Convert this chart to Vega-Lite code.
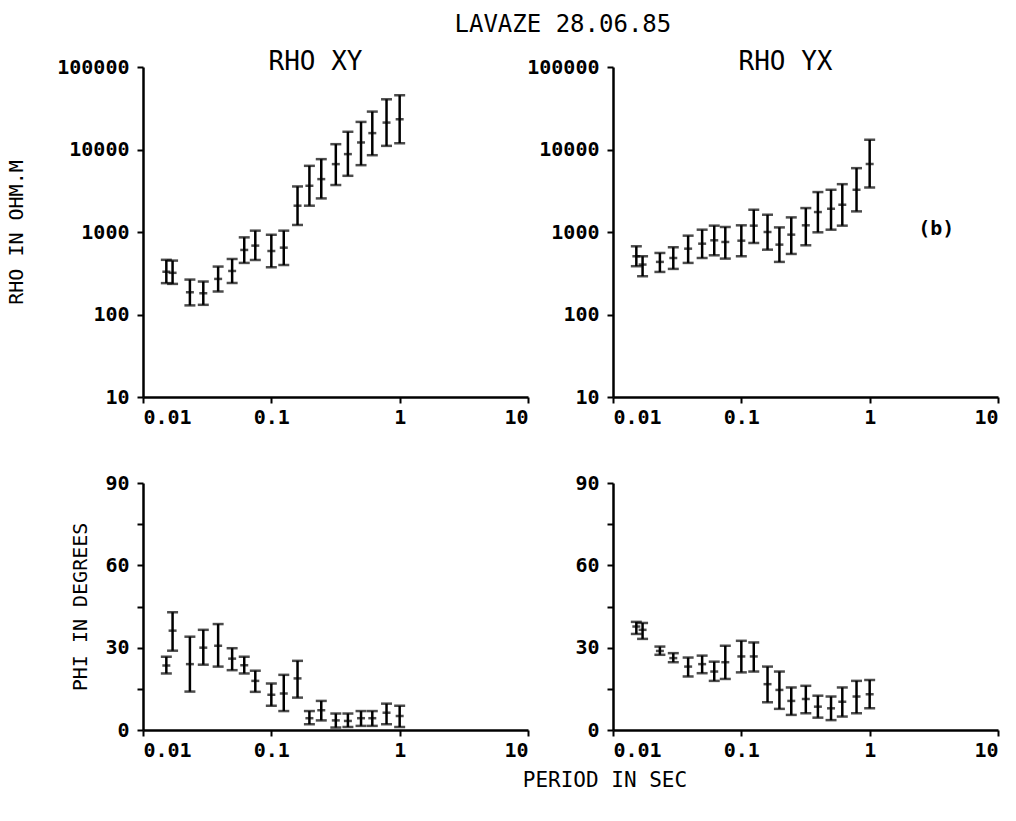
{
  "$schema": "https://vega.github.io/schema/vega-lite/v6.json",
  "background": "white",
  "padding": {"left": 6, "top": 13, "right": 5, "bottom": 5},
  "title": {"text": "LAVAZE 28.06.85", "fontSize": 24, "anchor": "middle", "offset": 12, "dx": 60},
  "config": {
    "view": {"stroke": null},
    "axis": {"grid": false, "domainColor": "black", "domainWidth": 2.5, "tickColor": "black", "tickWidth": 2, "tickSize": 6, "labelFont": "DejaVu Sans Mono", "labelFontSize": 20, "labelFontWeight": "bold", "labelColor": "black", "titleFont": "DejaVu Sans Mono", "titleFontSize": 20, "titleFontWeight": "normal", "titleColor": "black", "labelPadding": 8, "titlePadding": 6},
    "axisX": {"labelPadding": 4},
    "title": {"font": "DejaVu Sans Mono", "fontWeight": "normal", "color": "black", "fontSize": 20},
    "tick": {"color": "black", "thickness": 2.5},
    "rule": {"color": "black", "strokeWidth": 2.5},
    "text": {"color": "black", "font": "DejaVu Sans Mono", "fontSize": 20, "fontWeight": "bold"}
  },
  "data": {"values": [
    {"comp": "XY", "T": 0.0152, "rho": 330, "rlo": 240, "rhi": 460, "phi": 23.5, "plo": 20.6, "phh": 26.7},
    {"comp": "XY", "T": 0.0170, "rho": 320, "rlo": 235, "rhi": 450, "phi": 36.2, "plo": 28.9, "phh": 42.9},
    {"comp": "XY", "T": 0.0232, "rho": 186, "rlo": 129, "rhi": 265, "phi": 24, "plo": 14, "phh": 34},
    {"comp": "XY", "T": 0.0295, "rho": 181, "rlo": 131, "rhi": 251, "phi": 30, "plo": 23.8, "phh": 36.5},
    {"comp": "XY", "T": 0.0385, "rho": 270, "rlo": 190, "rhi": 381, "phi": 30.7, "plo": 23.1, "phh": 38.6},
    {"comp": "XY", "T": 0.0495, "rho": 337, "rlo": 241, "rhi": 471, "phi": 26, "plo": 21.8, "phh": 29.8},
    {"comp": "XY", "T": 0.0615, "rho": 606, "rlo": 422, "rhi": 861, "phi": 23.6, "plo": 20.6, "phh": 26.7},
    {"comp": "XY", "T": 0.0750, "rho": 684, "rlo": 458, "rhi": 1038, "phi": 17.9, "plo": 13.9, "phh": 21.6},
    {"comp": "XY", "T": 0.100, "rho": 589, "rlo": 374, "rhi": 929, "phi": 12.8, "plo": 8.8, "phh": 16.9},
    {"comp": "XY", "T": 0.125, "rho": 646, "rlo": 398, "rhi": 1038, "phi": 13.3, "plo": 6.9, "phh": 20.1},
    {"comp": "XY", "T": 0.160, "rho": 2084, "rlo": 1217, "rhi": 3565, "phi": 18.8, "plo": 11.8, "phh": 25.2},
    {"comp": "XY", "T": 0.198, "rho": 3634, "rlo": 2084, "rhi": 6340, "phi": 4.3, "plo": 2.1, "phh": 6.9},
    {"comp": "XY", "T": 0.245, "rho": 4375, "rlo": 2554, "rhi": 7640, "phi": 7.2, "plo": 3.5, "phh": 10.6},
    {"comp": "XY", "T": 0.318, "rho": 6650, "rlo": 3710, "rhi": 11600, "phi": 3.5, "plo": 0.9, "phh": 6.0},
    {"comp": "XY", "T": 0.395, "rho": 8790, "rlo": 4800, "rhi": 16400, "phi": 3.3, "plo": 1.1, "phh": 6.0},
    {"comp": "XY", "T": 0.500, "rho": 12170, "rlo": 6460, "rhi": 21600, "phi": 4.3, "plo": 1.5, "phh": 6.9},
    {"comp": "XY", "T": 0.612, "rho": 15800, "rlo": 8530, "rhi": 28800, "phi": 4.3, "plo": 1.5, "phh": 6.9},
    {"comp": "XY", "T": 0.790, "rho": 21200, "rlo": 11070, "rhi": 40600, "phi": 6.3, "plo": 2.1, "phh": 9.6},
    {"comp": "XY", "T": 1.000, "rho": 23300, "rlo": 11940, "rhi": 45400, "phi": 5.1, "plo": 1.1, "phh": 8.8},
    {"comp": "YX", "T": 0.0152, "rho": 508, "rlo": 385, "rhi": 671, "phi": 37.7, "plo": 35, "phh": 39.4},
    {"comp": "YX", "T": 0.0170, "rho": 403, "rlo": 291, "rhi": 508, "phi": 36.5, "plo": 33.2, "phh": 39},
    {"comp": "YX", "T": 0.0232, "rho": 434, "rlo": 328, "rhi": 557, "phi": 28.8, "plo": 27.4, "phh": 30.4},
    {"comp": "YX", "T": 0.0295, "rho": 484, "rlo": 357, "rhi": 653, "phi": 26.2, "plo": 24.7, "phh": 28},
    {"comp": "YX", "T": 0.0385, "rho": 628, "rlo": 422, "rhi": 903, "phi": 23.1, "plo": 19.5, "phh": 26.4},
    {"comp": "YX", "T": 0.0495, "rho": 722, "rlo": 484, "rhi": 1067, "phi": 24, "plo": 20.7, "phh": 27.1},
    {"comp": "YX", "T": 0.0615, "rho": 793, "rlo": 522, "rhi": 1194, "phi": 21.3, "plo": 17.9, "phh": 24.9},
    {"comp": "YX", "T": 0.0750, "rho": 757, "rlo": 476, "rhi": 1150, "phi": 24.7, "plo": 18.6, "phh": 30.7},
    {"comp": "YX", "T": 0.100, "rho": 785, "rlo": 508, "rhi": 1205, "phi": 26.8, "plo": 21, "phh": 32.5},
    {"comp": "YX", "T": 0.125, "rho": 1194, "rlo": 736, "rhi": 1862, "phi": 26.8, "plo": 21.3, "phh": 31.9},
    {"comp": "YX", "T": 0.160, "rho": 1000, "rlo": 611, "rhi": 1620, "phi": 16.7, "plo": 10.1, "phh": 23.1},
    {"comp": "YX", "T": 0.198, "rho": 703, "rlo": 434, "rhi": 1137, "phi": 14.6, "plo": 7.7, "phh": 21.3},
    {"comp": "YX", "T": 0.245, "rho": 929, "rlo": 542, "rhi": 1504, "phi": 10.6, "plo": 5.5, "phh": 15.5},
    {"comp": "YX", "T": 0.318, "rho": 1205, "rlo": 690, "rhi": 1950, "phi": 11.3, "plo": 6.1, "phh": 16.1},
    {"comp": "YX", "T": 0.395, "rho": 1745, "rlo": 991, "rhi": 3048, "phi": 8.5, "plo": 4.5, "phh": 12.5},
    {"comp": "YX", "T": 0.500, "rho": 1914, "rlo": 1067, "rhi": 3250, "phi": 7.9, "plo": 3.6, "phh": 12.2},
    {"comp": "YX", "T": 0.612, "rho": 2141, "rlo": 1194, "rhi": 3800, "phi": 10.3, "plo": 4.9, "phh": 15.5},
    {"comp": "YX", "T": 0.790, "rho": 3250, "rlo": 1778, "rhi": 5940, "phi": 12.2, "plo": 6.1, "phh": 17.9},
    {"comp": "YX", "T": 1.000, "rho": 6650, "rlo": 3467, "rhi": 13090, "phi": 13, "plo": 7.9, "phh": 18.2}
  ]},
  "spacing": 46,
  "vconcat": [
    {
      "bounds": "flush",
      "spacing": 85,
      "hconcat": [
        {
          "width": 385, "height": 330,
          "title": {"text": "RHO XY", "fontSize": 26, "offset": -18, "dx": -20},
          "transform": [{"filter": "datum.comp === 'XY'"}],
          "encoding": {"x": {"field": "T", "type": "quantitative", "scale": {"type": "log", "domain": [0.01, 10], "nice": false}, "axis": {"values": [0.01, 0.1, 1, 10], "format": "~g", "title": null}}},
          "layer": [
            {"mark": "rule", "encoding": {"y": {"field": "rlo", "type": "quantitative", "scale": {"type": "log", "domain": [10, 100000], "nice": false}, "axis": {"values": [10, 100, 1000, 10000, 100000], "format": "d", "title": "RHO IN OHM.M", "titlePadding": 30}}, "y2": {"field": "rhi"}}},
            {"mark": {"type": "tick", "orient": "horizontal", "size": 11}, "encoding": {"y": {"field": "rlo", "type": "quantitative", "axis": {"values": [10, 100, 1000, 10000, 100000], "format": "d", "title": "RHO IN OHM.M", "titlePadding": 30}}}},
            {"mark": {"type": "tick", "orient": "horizontal", "size": 11}, "encoding": {"y": {"field": "rhi", "type": "quantitative", "axis": {"values": [10, 100, 1000, 10000, 100000], "format": "d", "title": "RHO IN OHM.M", "titlePadding": 30}}}},
            {"mark": {"type": "tick", "orient": "horizontal", "size": 8}, "encoding": {"y": {"field": "rho", "type": "quantitative", "axis": {"values": [10, 100, 1000, 10000, 100000], "format": "d", "title": "RHO IN OHM.M", "titlePadding": 30}}}}
          ]
        },
        {
          "width": 385, "height": 330,
          "title": {"text": "RHO YX", "fontSize": 26, "offset": -18, "dx": -20},
          "transform": [{"filter": "datum.comp === 'YX'"}],
          "encoding": {"x": {"field": "T", "type": "quantitative", "scale": {"type": "log", "domain": [0.01, 10], "nice": false}, "axis": {"values": [0.01, 0.1, 1, 10], "format": "~g", "title": null}}},
          "layer": [
            {"mark": "rule", "encoding": {"y": {"field": "rlo", "type": "quantitative", "scale": {"type": "log", "domain": [10, 100000], "nice": false}, "axis": {"values": [10, 100, 1000, 10000, 100000], "format": "d", "title": null}}, "y2": {"field": "rhi"}}},
            {"mark": {"type": "tick", "orient": "horizontal", "size": 11}, "encoding": {"y": {"field": "rlo", "type": "quantitative", "axis": {"values": [10, 100, 1000, 10000, 100000], "format": "d", "title": null}}}},
            {"mark": {"type": "tick", "orient": "horizontal", "size": 11}, "encoding": {"y": {"field": "rhi", "type": "quantitative", "axis": {"values": [10, 100, 1000, 10000, 100000], "format": "d", "title": null}}}},
            {"mark": {"type": "tick", "orient": "horizontal", "size": 8}, "encoding": {"y": {"field": "rho", "type": "quantitative", "axis": {"values": [10, 100, 1000, 10000, 100000], "format": "d", "title": null}}}},
            {"data": {"values": [{"T": 3.3, "rho": 1100, "t": "(b)"}]}, "mark": {"type": "text"}, "encoding": {"x": {"field": "T", "type": "quantitative"}, "y": {"field": "rho", "type": "quantitative", "axis": {"values": [10, 100, 1000, 10000, 100000], "format": "d", "title": null}}, "text": {"field": "t"}}}
          ]
        }
      ]
    },
    {
      "bounds": "flush",
      "spacing": 85,
      "title": {"text": "PERIOD IN SEC", "orient": "bottom", "anchor": "middle", "offset": 10, "dx": 70, "fontSize": 21},
      "hconcat": [
        {
          "width": 385, "height": 247,
          "transform": [{"filter": "datum.comp === 'XY'"}],
          "encoding": {"x": {"field": "T", "type": "quantitative", "scale": {"type": "log", "domain": [0.01, 10], "nice": false}, "axis": {"values": [0.01, 0.1, 1, 10], "format": "~g", "title": null}}},
          "layer": [
            {"mark": "rule", "encoding": {"y": {"field": "plo", "type": "quantitative", "scale": {"domain": [0, 90], "nice": false}, "axis": {"values": [0, 15, 30, 45, 60, 75, 90], "labelExpr": "datum.value % 30 === 0 ? datum.label : ''", "title": "PHI IN DEGREES", "titlePadding": 14}}, "y2": {"field": "phh"}}},
            {"mark": {"type": "tick", "orient": "horizontal", "size": 11}, "encoding": {"y": {"field": "plo", "type": "quantitative", "axis": {"values": [0, 15, 30, 45, 60, 75, 90], "labelExpr": "datum.value % 30 === 0 ? datum.label : ''", "title": "PHI IN DEGREES", "titlePadding": 14}}}},
            {"mark": {"type": "tick", "orient": "horizontal", "size": 11}, "encoding": {"y": {"field": "phh", "type": "quantitative", "axis": {"values": [0, 15, 30, 45, 60, 75, 90], "labelExpr": "datum.value % 30 === 0 ? datum.label : ''", "title": "PHI IN DEGREES", "titlePadding": 14}}}},
            {"mark": {"type": "tick", "orient": "horizontal", "size": 8}, "encoding": {"y": {"field": "phi", "type": "quantitative", "axis": {"values": [0, 15, 30, 45, 60, 75, 90], "labelExpr": "datum.value % 30 === 0 ? datum.label : ''", "title": "PHI IN DEGREES", "titlePadding": 14}}}}
          ]
        },
        {
          "width": 385, "height": 247,
          "transform": [{"filter": "datum.comp === 'YX'"}],
          "encoding": {"x": {"field": "T", "type": "quantitative", "scale": {"type": "log", "domain": [0.01, 10], "nice": false}, "axis": {"values": [0.01, 0.1, 1, 10], "format": "~g", "title": null}}},
          "layer": [
            {"mark": "rule", "encoding": {"y": {"field": "plo", "type": "quantitative", "scale": {"domain": [0, 90], "nice": false}, "axis": {"values": [0, 15, 30, 45, 60, 75, 90], "labelExpr": "datum.value % 30 === 0 ? datum.label : ''", "title": null}}, "y2": {"field": "phh"}}},
            {"mark": {"type": "tick", "orient": "horizontal", "size": 11}, "encoding": {"y": {"field": "plo", "type": "quantitative", "axis": {"values": [0, 15, 30, 45, 60, 75, 90], "labelExpr": "datum.value % 30 === 0 ? datum.label : ''", "title": null}}}},
            {"mark": {"type": "tick", "orient": "horizontal", "size": 11}, "encoding": {"y": {"field": "phh", "type": "quantitative", "axis": {"values": [0, 15, 30, 45, 60, 75, 90], "labelExpr": "datum.value % 30 === 0 ? datum.label : ''", "title": null}}}},
            {"mark": {"type": "tick", "orient": "horizontal", "size": 8}, "encoding": {"y": {"field": "phi", "type": "quantitative", "axis": {"values": [0, 15, 30, 45, 60, 75, 90], "labelExpr": "datum.value % 30 === 0 ? datum.label : ''", "title": null}}}}
          ]
        }
      ]
    }
  ]
}
